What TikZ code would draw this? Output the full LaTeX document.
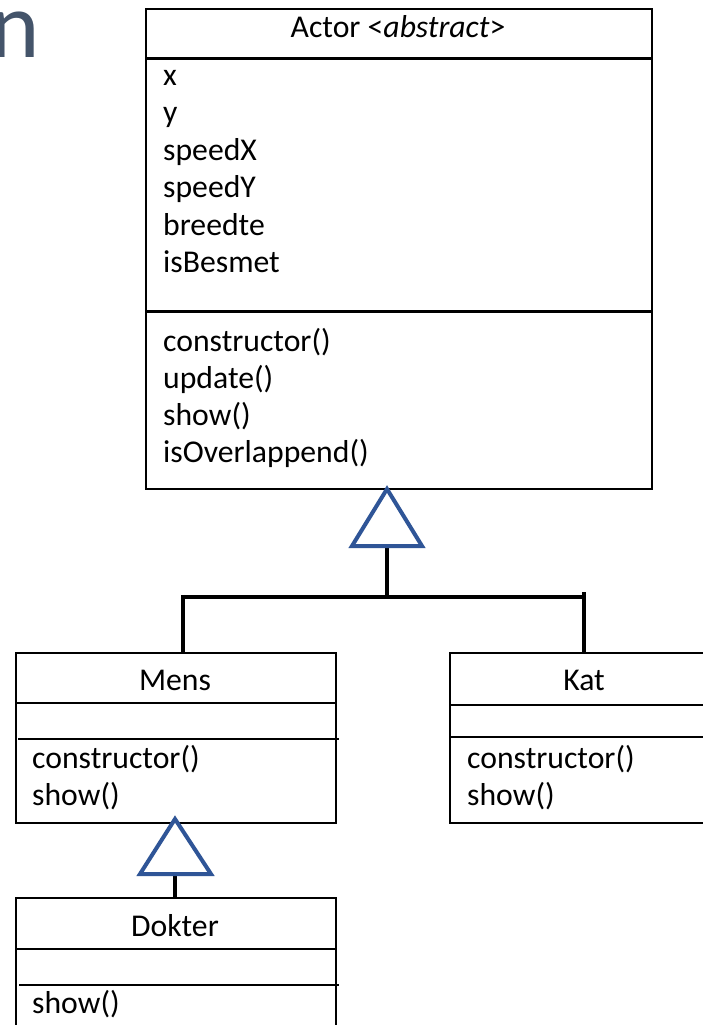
\documentclass[tikz,border=0pt]{standalone}
\usepackage{fontspec}
\setmainfont{Carlito}
\definecolor{slidetitle}{HTML}{44546A}
\definecolor{genblue}{HTML}{2F5597}
\begin{document}
\begin{tikzpicture}[x=1pt,y=-1pt,
  classbox/.style={draw=black,line width=2pt,fill=white,inner sep=0pt,anchor=north west},
  rule/.style={draw=black,line width=2pt},
  thickrule/.style={draw=black,line width=3pt},
  member/.style={anchor=base west,inner sep=0pt,font=\fontsize{31.7}{38}\selectfont},
  classname/.style={anchor=base,inner sep=0pt,font=\fontsize{31.7}{38}\selectfont},
  gentri/.style={draw=genblue,line width=4pt,fill=white,line join=miter},
  conn/.style={draw=black,line width=4.5pt}]
\useasboundingbox (0,0) rectangle (703,1025);
\clip (0,0) rectangle (703,1025);
\fill[white] (0,0) rectangle (703,1025);

% slide title fragment
\node[anchor=base west,inner sep=0pt,text=slidetitle,font=\fontsize{94}{110}\selectfont] (slidetitle) at (-10,58) {n};

% ---- Actor ----
\node[classbox,minimum width=506pt,minimum height=480pt] (actor) at (145,8) {};
\draw[thickrule] (actor.west |- 0,59) -- (actor.east |- 0,59);
\draw[thickrule] (actor.west |- 0,311) -- (actor.east |- 0,311);
\node[classname] (actorname) at (398,38) {Actor <\textit{abstract}>};
\node[member] (ax) at (163,85) {x};
\node[member] (ay) at (163,122.5) {y};
\node[member] (asx) at (163,160) {speedX};
\node[member] (asy) at (163,197.5) {speedY};
\node[member] (abr) at (163,235) {breedte};
\node[member] (abe) at (163,272.5) {isBesmet};
\node[member] (mcon) at (163,351) {constructor()};
\node[member] (mupd) at (163,388) {update()};
\node[member] (mshow) at (163,425) {show()};
\node[member] (movl) at (163,462) {isOverlappend()};

% ---- Mens ----
\node[classbox,minimum width=320pt,minimum height=170pt] (mens) at (15,652) {};
\draw[rule] (mens.west |- 0,703) -- (mens.east |- 0,703);
\draw[rule] (18,739) -- (339,739);
\node[classname] (mensname) at (175,690) {Mens};
\node[member] (menscon) at (32,768) {constructor()};
\node[member] (mensshow) at (32,805) {show()};

% ---- Kat ----
\node[classbox,minimum width=270pt,minimum height=170pt] (kat) at (449,652) {};
\draw[rule] (kat.west |- 0,705) -- (kat.east |- 0,705);
\draw[rule] (kat.west |- 0,737) -- (kat.east |- 0,737);
\node[classname] (katname) at (584,690) {Kat};
\node[member] (katcon) at (467,768) {constructor()};
\node[member] (katshow) at (467,805) {show()};

% ---- Dokter ----
\node[classbox,minimum width=320pt,minimum height=160pt] (dokter) at (15,897) {};
\draw[rule] (dokter.west |- 0,949) -- (dokter.east |- 0,949);
\draw[rule] (19,985) -- (339,985);
\node[classname] (doktername) at (175,936) {Dokter};
\node[member] (doktershow) at (32,1013) {show()};

% ---- generalisation Mens/Kat -> Actor ----
\coordinate (g1apex) at (387,489);
\coordinate (g1base) at (387,546);
\coordinate (g1bar) at (387,597);
\coordinate (g1left) at (183,597);
\coordinate (g1right) at (584,597);
\coordinate (g1rightend) at (584,592);
\draw[conn] (g1base) -- (g1bar);
\draw[conn] (g1left) -- (g1right);
\draw[conn] ([yshift=2.25pt]g1left) -- (g1left |- mens.north);
\draw[conn] (g1rightend) -- (g1rightend |- kat.north);
\draw[gentri] (g1apex) -- (352,546) -- (422,546) -- cycle;

% ---- generalisation Dokter -> Mens ----
\coordinate (g2apex) at (175,819);
\coordinate (g2base) at (175,872);
\draw[conn] (g2base) -- (g2base |- dokter.north);
\draw[gentri] (g2apex) -- (140,874) -- (211,874) -- cycle;
\end{tikzpicture}
\end{document}
